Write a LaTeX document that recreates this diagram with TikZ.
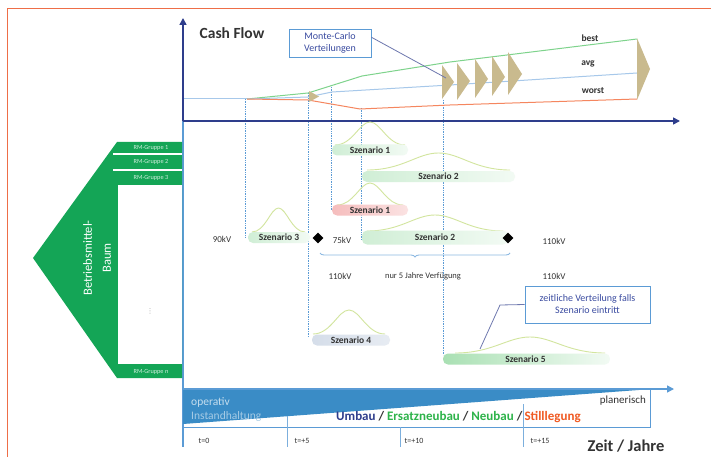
\documentclass[tikz,border=0pt]{standalone}
\usepackage{fontspec}
\setmainfont{Carlito}
\newfontfamily\djv{DejaVu Sans}
\usetikzlibrary{arrows.meta,decorations.pathreplacing,shapes.geometric,calc}
\definecolor{navy}{HTML}{2E3D8C}
\definecolor{lblue}{HTML}{5B9BD5}
\definecolor{wedgeblue}{HTML}{3A8CC6}
\definecolor{treegreen}{HTML}{14A556}
\definecolor{cfgreen}{HTML}{7ED38C}
\definecolor{cfblue}{HTML}{A7C8EA}
\definecolor{cforange}{HTML}{F5865F}
\definecolor{chev}{HTML}{C9BA8E}
\definecolor{frameorange}{HTML}{EE6E48}
\definecolor{bellcol}{HTML}{D2E59E}
\definecolor{barg}{HTML}{A9E0B3}
\definecolor{barr}{HTML}{F1A0A0}
\definecolor{barb}{HTML}{C3CFE0}
\definecolor{boxtext}{HTML}{3A4BA0}
\definecolor{darktext}{HTML}{333333}
\definecolor{umbaucol}{HTML}{2E3D8C}
\definecolor{neucol}{HTML}{2DB34A}
\definecolor{stillcol}{HTML}{F05A23}
\newcommand\bellc[4]{% left x, right x, base y, peak y
  \draw[bellcol, line width=0.9pt] (#1,#3) .. controls ({#1+0.25*(#2-#1)},#3) and ({#1+0.35*(#2-#1)},#4) .. ({0.5*(#1+#2)},#4) .. controls ({#2-0.35*(#2-#1)},#4) and ({#2-0.25*(#2-#1)},#3) .. (#2,#3);}
\begin{document}
\begin{tikzpicture}[x=1pt,y=-1pt,
  sbar/.style={rounded corners=5pt, inner sep=0pt, minimum height=11pt, font=\fontsize{9.5}{10}\selectfont\bfseries, text=darktext},
  gbar/.style={sbar, left color=barg!55, middle color=barg, right color=barg!15},
  rbar/.style={sbar, left color=barr!70, middle color=barr, right color=barr!30},
  bbar/.style={sbar, left color=barb!70, middle color=barb, right color=barb!40},
  dotline/.style={lblue, densely dotted, line width=0.7pt},
  kv/.style={font=\fontsize{9}{10}\selectfont, text=darktext, inner sep=1pt},
  cfl/.style={font=\fontsize{9.5}{10}\selectfont\bfseries, text=darktext, inner sep=1pt},
  infobox/.style={draw=lblue, line width=0.8pt, text=boxtext, align=center, inner sep=2pt},
  rm/.style={font=\fontsize{6.3}{7}\selectfont, text=white!80!treegreen, inner sep=0pt},
  tick/.style={font=\fontsize{8}{9}\selectfont, text=darktext, inner sep=1pt}
]
\useasboundingbox (0,0) rectangle (711,457);
\fill[white] (0,0) rectangle (711,457);
\draw[frameorange, line width=1pt] (7,457) -- (7,9) -- (711,9);

% ---------- dotted guide lines ----------
\draw[dotline] (245,99) -- (245,237);
\draw[dotline] (308,93) -- (308,337);
\draw[dotline] (331,87) -- (331,210);
\draw[dotline] (361,108) -- (361,240);
\draw[dotline] (443,100) -- (443,355);

% ---------- cash flow curves ----------
\draw[cfblue, line width=1pt] (183,99) -- (247,99);
\draw[cfgreen, line width=1pt] (247,99) -- (308,93) -- (362,76) -- (450,62) -- (637,39);
\draw[cfblue, line width=1pt] (247,99) -- (308,97) -- (332,92) -- (450,85) -- (637,73);
\draw[cforange, line width=1pt] (247,99) -- (308,100) -- (360,109) -- (450,105) -- (637,99);
\fill[chev] (309,91) -- (319,96.5) -- (309,102) -- cycle;
\fill[chev] (442,65) -- (454,82) -- (442,99) -- cycle;
\fill[chev] (457,63) -- (470,81) -- (457,100) -- cycle;
\fill[chev] (475,59) -- (488,79) -- (475,98) -- cycle;
\fill[chev] (492,56) -- (505,77) -- (492,96) -- cycle;
\fill[chev] (508,52) -- (522,74) -- (508,95) -- cycle;
\fill[chev] (637,38) -- (650,69) -- (637,100) -- cycle;
\node[cfl] (best) at (590,38) {best};
\node[cfl] (avg) at (588,64) {avg};
\node[cfl] (worst) at (593,91) {worst};

% ---------- axes ----------
\draw[lblue, line width=1.2pt] (183,121) -- (183,447);
\draw[navy, line width=1.6pt, -{Triangle[length=7pt,width=7pt]}] (183,121) -- (183,18);
\draw[navy, line width=1.6pt, -{Triangle[length=7pt,width=7pt]}] (183,121) -- (680,121);
\node[font=\fontsize{15.5}{17}\selectfont\bfseries, text=darktext, inner sep=0pt] (cf) at (232,33) {Cash Flow};

\node[infobox, minimum width=82pt, minimum height=28pt, font=\fontsize{10}{11.5}\selectfont] (mc) at (330,43) {Monte-Carlo\\Verteilungen};
\coordinate (mctip) at (446,78);
\draw[navy!70, line width=0.8pt] ($(mc.north east)!0.3!(mc.south east)$) -- (mctip);

% ---------- scenarios ----------
\bellc{335}{405}{145}{122}
\node[gbar, minimum width=76pt] (s1) at (370,150) {Szenario 1};
\bellc{367}{510}{170}{153}
\node[gbar, minimum width=153pt] (s2a) at (438.5,176.5) {Szenario 2};
\bellc{337}{403}{205}{183}
\node[rbar, minimum width=76pt] (s1r) at (370,210) {Szenario 1};
\bellc{252}{305}{232}{208}
\node[gbar, minimum width=62pt] (s3) at (279,237.5) {Szenario 3};
\bellc{367}{503}{231}{215}
\node[gbar, minimum width=146pt, minimum height=14pt] (s2b) at (435,237.5) {Szenario 2};
\bellc{313}{385}{334}{310}
\node[bbar, minimum width=78pt] (s4) at (351,340) {Szenario 4};
\bellc{455}{605}{353}{337}
\node[gbar, minimum width=167pt, left color=barg, middle color=barg!80, right color=barg!15] (s5) at (526.5,359) {\hspace*{-2pt}Szenario 5};

\node[diamond, fill=black, minimum size=11pt, inner sep=0pt] (d1) at (318,238) {};
\node[diamond, fill=black, minimum size=11pt, inner sep=0pt] (d2) at (508,238) {};
\draw[lblue!70, line width=0.9pt, decorate, decoration={brace, amplitude=4pt, mirror}] (320,253) -- (510,253);

\node[kv] (k90) at (222,239) {90kV};
\node[kv] (k75) at (342,240) {75kV};
\node[kv] (k110a) at (554,241) {110kV};
\node[kv] (k110b) at (340,276) {110kV};
\node[kv, font=\fontsize{8.5}{10}\selectfont] (nur) at (423,276) {nur 5 Jahre Verfügung};
\node[kv] (k110c) at (554,276) {110kV};

\node[infobox, minimum width=125pt, minimum height=37pt, font=\fontsize{10}{12}\selectfont] (zv) at (587.5,304.5) {zeitliche Verteilung falls\\Szenario eintritt};
\coordinate (zvk) at (500,305);
\coordinate (zvtip) at (480,349);
\draw[navy!70, line width=0.8pt] (zv.west) -- (zvk) -- (zvtip);

% ---------- Betriebsmittel-Baum ----------
\fill[treegreen] (33,258) -- (117,142) -- (182,142) -- (182,378) -- (117,378) -- cycle;
\fill[white] (118,185) rectangle (182,364);
\fill[white] (113,153.2) rectangle (182,155.2);
\fill[white] (113,168.5) rectangle (182,170.5);
\node[rm] (g1) at (151,148) {RM-Gruppe 1};
\node[rm] (g2) at (151,162) {RM-Gruppe 2};
\node[rm] (g3) at (151,177.5) {RM-Gruppe 3};
\node[rm] (gn) at (151,372) {RM-Gruppe n};
\node[text=gray!70, inner sep=0pt, font=\djv\fontsize{7}{8}\selectfont] (vd) at (150,311) {⋮};
\node[rotate=90, text=white, align=center, font=\fontsize{12.5}{19}\selectfont] (bb) at (97,258) {Betriebsmittel-\\Baum};

% ---------- time axis ----------
\fill[wedgeblue] (183,389) -- (652,389) -- (183,424) -- cycle;
\draw[lblue, line width=0.8pt] (183,427) -- (650,427) -- (650,389);
\draw[lblue!80, line width=0.6pt] (287,416) -- (287,447);
\draw[lblue!80, line width=0.6pt] (400,427) -- (400,447);
\draw[lblue!80, line width=0.6pt] (523,404) -- (523,447);
\draw[lblue, line width=1.4pt, -{Triangle[length=7pt,width=7pt]}] (183,389) -- (674,389);
\node[font=\fontsize{11.5}{13}\selectfont, text=white!70!wedgeblue, anchor=west, inner sep=0pt] (op) at (191,402) {operativ};
\node[font=\fontsize{11.5}{13}\selectfont, text=white!55!wedgeblue, anchor=west, inner sep=0pt] (ih) at (191,416) {Instandhaltung};
\node[font=\fontsize{11}{13}\selectfont, text=darktext, anchor=east, inner sep=0pt] (pl) at (646,401) {planerisch};
\node[font=\fontsize{13}{14}\selectfont\bfseries, anchor=west, inner sep=0pt] (mass) at (336,417) {\textcolor{umbaucol}{Umbau} \textcolor{darktext}{/} \textcolor{neucol}{Ersatzneubau} \textcolor{darktext}{/} \textcolor{neucol}{Neubau} \textcolor{darktext}{/}\,\textcolor{stillcol}{Stilllegung}};
\node[tick] (t0) at (204,441) {t=0};
\node[tick] (t5) at (302,441) {t=+5};
\node[tick] (t10) at (414,441) {t=+10};
\node[tick] (t15) at (540,441) {t=+15};
\node[font=\fontsize{16.5}{18}\selectfont\bfseries, text=darktext, inner sep=0pt] (zeit) at (626,446) {Zeit / Jahre};
\end{tikzpicture}
\end{document}
